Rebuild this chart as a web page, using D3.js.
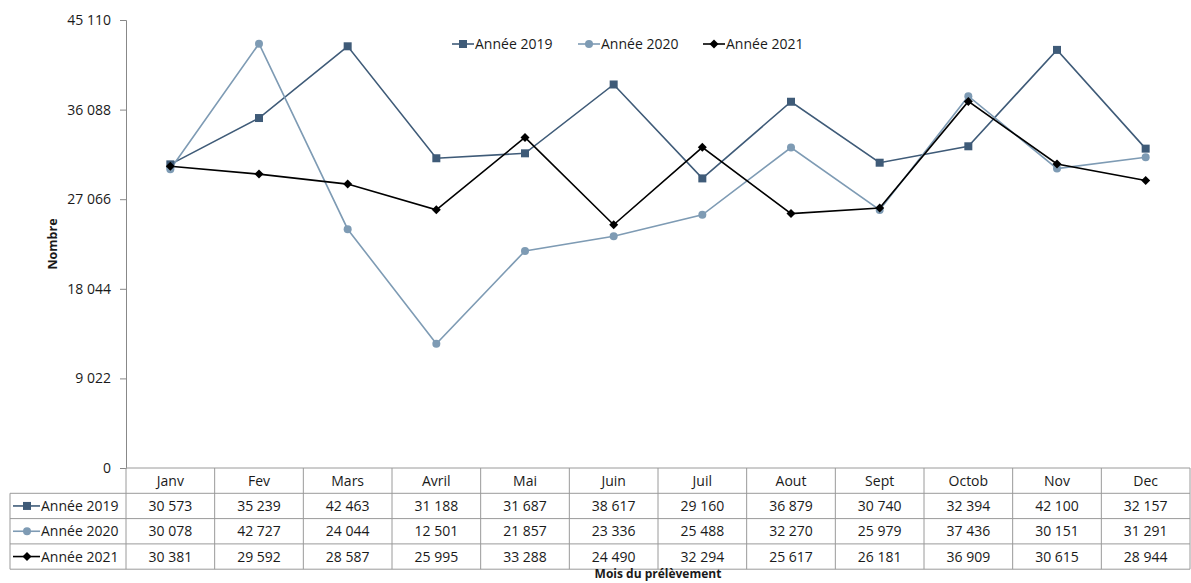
<!DOCTYPE html>
<html>
<head>
<meta charset="utf-8">
<script src="https://cdn.jsdelivr.net/npm/d3@7"></script>
<style>
  body { margin: 0; background: #fff; }
  text { font-family: "Open Sans", "Noto Sans", sans-serif; fill: #1a1a1a; }
</style>
</head>
<body>
<svg id="chart" width="1191" height="583"></svg>
<script>
// months and series values
const months = ["Janv", "Fev", "Mars", "Avril", "Mai", "Juin", "Juil", "Aout", "Sept", "Octob", "Nov", "Dec"];
const values2019 = [30573, 35239, 42463, 31188, 31687, 38617, 29160, 36879, 30740, 32394, 42100, 32157];
const values2020 = [30078, 42727, 24044, 12501, 21857, 23336, 25488, 32270, 25979, 37436, 30151, 31291];
const values2021 = [30381, 29592, 28587, 25995, 33288, 24490, 32294, 25617, 26181, 36909, 30615, 28944];
const yTicks = [0, 9022, 18044, 27066, 36088, 45110];

const series = [
  { name: "Année 2019", values: values2019, color: "#3f5b78", marker: "square" },
  { name: "Année 2020", values: values2020, color: "#7e9bb4", marker: "circle" },
  { name: "Année 2021", values: values2021, color: "#000000", marker: "diamond" }
];

const svg = d3.select("#chart");
const plotLeft = 126, plotRight = 1190, plotTop = 20, plotBottom = 468;
const rowH = 25.3;
const fs = 14;

const x = d3.scaleBand().domain(months).range([plotLeft, plotRight]);
const y = d3.scaleLinear().domain([0, 45110]).range([plotBottom, plotTop]);

function fmt(v) {
  return d3.format(",")(v).replace(/,/g, " ");
}

// draw marker symbol of given type
function drawMarker(g, type, cx, cy, color) {
  if (type === "square") {
    g.append("rect").attr("x", cx - 4).attr("y", cy - 4).attr("width", 8).attr("height", 8).attr("fill", color);
  } else if (type === "circle") {
    g.append("circle").attr("cx", cx).attr("cy", cy).attr("r", 4).attr("fill", color);
  } else {
    g.append("path").attr("d", `M${cx},${cy - 4.5}L${cx + 4.5},${cy}L${cx},${cy + 4.5}L${cx - 4.5},${cy}Z`).attr("fill", color);
  }
}

// y axis
const yAxis = svg.append("g").attr("transform", `translate(${plotLeft},0)`)
  .call(d3.axisLeft(y).tickValues(yTicks).tickSize(6).tickFormat(fmt));
yAxis.select(".domain").attr("stroke", "#888");
yAxis.selectAll(".tick line").attr("stroke", "#888");
yAxis.selectAll(".tick text").attr("font-size", fs).attr("x", -15)
  .style("font-family", '"Open Sans", sans-serif').attr("fill", "#1a1a1a");

svg.append("text").attr("transform", `translate(57,${(plotTop + plotBottom) / 2}) rotate(-90)`)
  .attr("text-anchor", "middle").attr("font-size", 12.5).attr("font-weight", "bold").text("Nombre");

// lines
const line = d3.line().x((d, i) => x(months[i]) + x.bandwidth() / 2).y(d => y(d));
series.forEach(s => {
  svg.append("path").datum(s.values).attr("d", line)
    .attr("fill", "none").attr("stroke", s.color).attr("stroke-width", 1.6);
});
series.forEach(s => {
  const g = svg.append("g");
  s.values.forEach((v, i) => drawMarker(g, s.marker, x(months[i]) + x.bandwidth() / 2, y(v), s.color));
});

// legend
const legendX = [452, 578, 703];
series.forEach((s, i) => {
  const g = svg.append("g");
  g.append("line").attr("x1", legendX[i]).attr("x2", legendX[i] + 22).attr("y1", 44).attr("y2", 44)
    .attr("stroke", s.color).attr("stroke-width", 1.6);
  drawMarker(g, s.marker, legendX[i] + 11, 44, s.color);
  g.append("text").attr("x", legendX[i] + 23).attr("y", 49).attr("font-size", fs).text(s.name);
});

// data table
const tbl = svg.append("g");
const gridColor = "#9a9a9a";
const tableBottom = plotBottom + rowH * 4;
tbl.append("line").attr("x1", plotLeft).attr("x2", plotRight).attr("y1", plotBottom).attr("y2", plotBottom).attr("stroke", gridColor);
for (let r = 1; r <= 4; r++) {
  tbl.append("line").attr("x1", 10).attr("x2", plotRight).attr("y1", plotBottom + rowH * r).attr("y2", plotBottom + rowH * r).attr("stroke", gridColor);
}
tbl.append("line").attr("x1", 10).attr("x2", 10).attr("y1", plotBottom + rowH).attr("y2", tableBottom).attr("stroke", gridColor);
months.forEach(m => {
  tbl.append("line").attr("x1", x(m)).attr("x2", x(m)).attr("y1", plotBottom).attr("y2", tableBottom).attr("stroke", gridColor);
});
tbl.append("line").attr("x1", plotRight).attr("x2", plotRight).attr("y1", plotBottom).attr("y2", tableBottom).attr("stroke", gridColor);

months.forEach(m => {
  tbl.append("text").attr("x", x(m) + x.bandwidth() / 2).attr("y", plotBottom + rowH / 2 + 5)
    .attr("text-anchor", "middle").attr("font-size", fs).text(m);
});
series.forEach((s, r) => {
  const cy = plotBottom + rowH * (r + 1) + rowH / 2;
  tbl.append("line").attr("x1", 13).attr("x2", 40).attr("y1", cy).attr("y2", cy)
    .attr("stroke", s.color).attr("stroke-width", 1.6);
  drawMarker(tbl, s.marker, 27, cy, s.color);
  tbl.append("text").attr("x", 41).attr("y", cy + 5).attr("font-size", fs).text(s.name);
  s.values.forEach((v, i) => {
    tbl.append("text").attr("x", x(months[i]) + x.bandwidth() / 2).attr("y", cy + 5)
      .attr("text-anchor", "middle").attr("font-size", fs).text(fmt(v));
  });
});

svg.append("text").attr("x", (plotLeft + plotRight) / 2).attr("y", 578).attr("text-anchor", "middle")
  .attr("font-size", 12).attr("font-weight", "bold").text("Mois  du prélèvement");
</script>
</body>
</html>
